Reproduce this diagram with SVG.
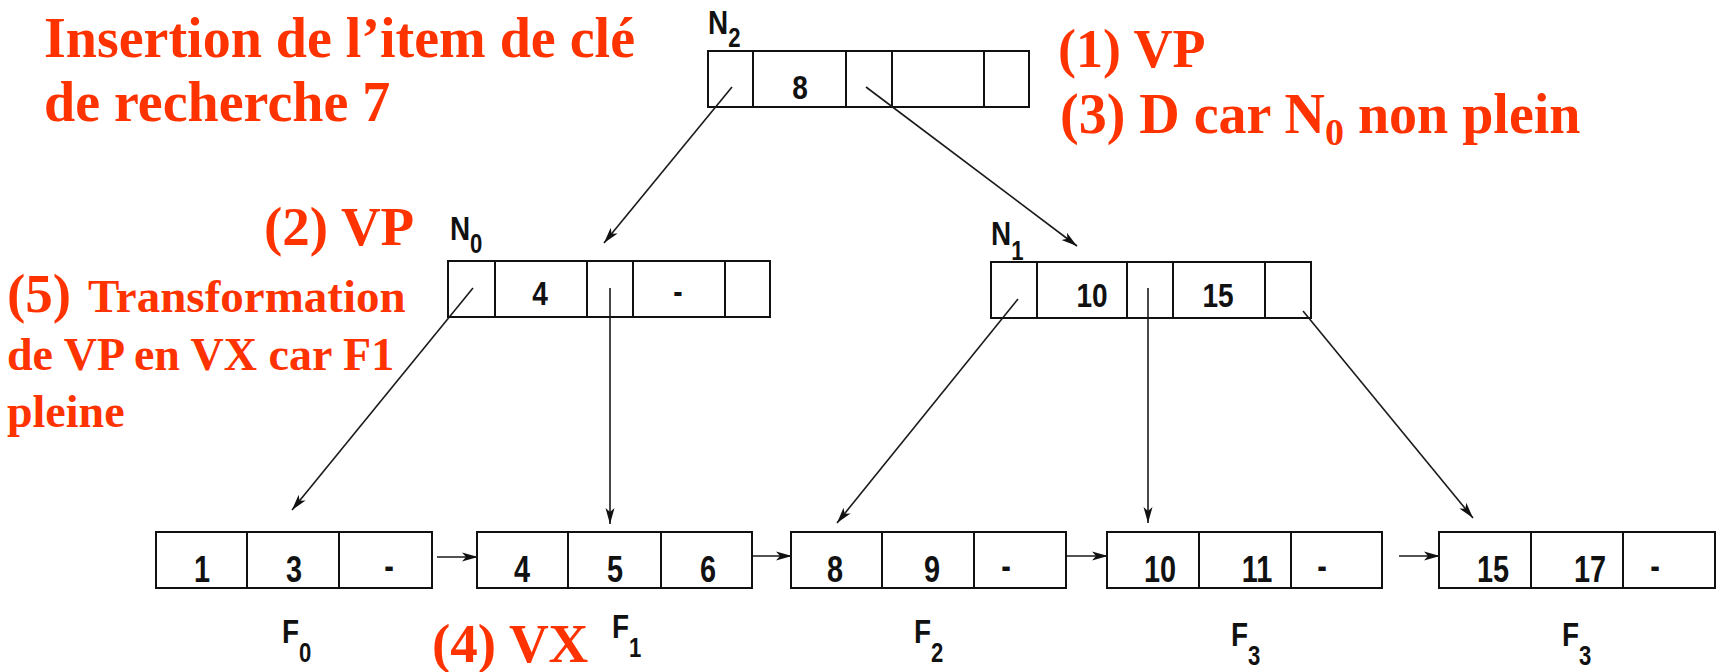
<svg xmlns="http://www.w3.org/2000/svg" width="1724" height="672" viewBox="0 0 1724 672">
<defs>
<style>
.cell{fill:#fff;stroke:#111;stroke-width:2}
.div{stroke:#111;stroke-width:2}
.d{font-family:"Liberation Sans",Arial,sans-serif;font-weight:bold;fill:#111;text-anchor:middle;transform-box:fill-box;transform-origin:center}
.di{font-size:33px;transform:scaleX(0.85)}
.dl{font-size:37px;transform:scaleX(0.78)}
.lab{font-family:"Liberation Sans",Arial,sans-serif;font-weight:bold;fill:#111;font-size:34px;transform-box:fill-box;transform-origin:left bottom;transform:scaleX(0.82)}
.sub{font-size:27px}
.red{font-family:"Liberation Serif","Times New Roman",serif;font-weight:bold;fill:#FF3300}
.con{stroke:#1a1a1a;stroke-width:1.6;fill:none;marker-end:url(#ah)}
</style>
<marker id="ah" viewBox="0 0 16 10" refX="16" refY="5" markerWidth="16" markerHeight="10" orient="auto" markerUnits="userSpaceOnUse">
<path d="M0,0.5 L16,5 L0,9.5 L4,5 z" fill="#111"/>
</marker>
</defs>
<rect width="1724" height="672" fill="#fff"/>

<g id="annotations">
<text class="red" x="44" y="57" font-size="56">Insertion de l’item de clé</text>
<text class="red" x="44" y="121" font-size="56">de recherche 7</text>
<text class="red" x="1058" y="67" font-size="54">(1) VP</text>
<text class="red" x="1060" y="133" font-size="56">(3) D car N<tspan font-size="38" dy="12">0</tspan><tspan dy="-12"> non plein</tspan></text>
<text class="red" x="264" y="245" font-size="55">(2) VP</text>
<text class="red" x="7" y="312" font-size="55">(5)<tspan x="88" font-size="47">Transformation</tspan></text>
<text class="red" x="7" y="370" font-size="46">de VP en VX car F1</text>
<text class="red" x="7" y="427" font-size="46">pleine</text>
<text class="red" x="432" y="662" font-size="55">(4) VX</text>
</g>

<g id="N2">
<rect class="cell" x="708" y="51" width="321" height="56"/>
<path class="div" d="M753,51V107M846,51V107M892,51V107M984,51V107"/>
<text class="d di" x="800" y="99">8</text>
<text class="lab" x="708" y="34">N<tspan class="sub" dy="13">2</tspan></text>
</g>

<g id="N0">
<rect class="cell" x="448" y="261" width="322" height="56"/>
<path class="div" d="M495,261V317M587,261V317M633,261V317M725,261V317"/>
<text class="d di" x="540" y="305">4</text>
<text class="d di" x="678" y="303">-</text>
<text class="lab" x="450" y="240">N<tspan class="sub" dy="13">0</tspan></text>
</g>

<g id="N1">
<rect class="cell" x="991" y="262" width="320" height="56"/>
<path class="div" d="M1037,262V318M1127,262V318M1173,262V318M1265,262V318"/>
<text class="d di" x="1092" y="307">10</text>
<text class="d di" x="1218" y="307">15</text>
<text class="lab" x="991" y="245">N<tspan class="sub" dy="15">1</tspan></text>
</g>

<g id="F0">
<rect class="cell" x="156" y="532" width="276" height="56"/>
<path class="div" d="M247,532V588M339,532V588"/>
<text class="d dl" x="202" y="582">1</text>
<text class="d dl" x="294" y="582">3</text>
<text class="d dl" x="389" y="578">-</text>
<text class="lab" x="282" y="643">F<tspan class="sub" dy="19">0</tspan></text>
</g>

<g id="F1">
<rect class="cell" x="477" y="532" width="275" height="56"/>
<path class="div" d="M568,532V588M661,532V588"/>
<text class="d dl" x="522" y="582">4</text>
<text class="d dl" x="615" y="582">5</text>
<text class="d dl" x="708" y="582">6</text>
<text class="lab" x="612" y="638">F<tspan class="sub" dy="19">1</tspan></text>
</g>

<g id="F2">
<rect class="cell" x="791" y="532" width="275" height="56"/>
<path class="div" d="M882,532V588M974,532V588"/>
<text class="d dl" x="835" y="582">8</text>
<text class="d dl" x="932" y="582">9</text>
<text class="d dl" x="1006" y="578">-</text>
<text class="lab" x="914" y="643">F<tspan class="sub" dy="19">2</tspan></text>
</g>

<g id="F3a">
<rect class="cell" x="1107" y="532" width="275" height="56"/>
<path class="div" d="M1199,532V588M1291,532V588"/>
<text class="d dl" x="1160" y="582">10</text>
<text class="d dl" x="1257" y="582">11</text>
<text class="d dl" x="1322" y="578">-</text>
<text class="lab" x="1231" y="646">F<tspan class="sub" dy="19">3</tspan></text>
</g>

<g id="F3b">
<rect class="cell" x="1439" y="532" width="276" height="56"/>
<path class="div" d="M1531,532V588M1623,532V588"/>
<text class="d dl" x="1493" y="582">15</text>
<text class="d dl" x="1590" y="582">17</text>
<text class="d dl" x="1655" y="578">-</text>
<text class="lab" x="1562" y="646">F<tspan class="sub" dy="19">3</tspan></text>
</g>

<g id="connectors">
<path class="con" d="M732,87L604,243"/>
<path class="con" d="M866,87L1077,246"/>
<path class="con" d="M473,288L292,510"/>
<path class="con" d="M610,288L610,524"/>
<path class="con" d="M1018,299L837,523"/>
<path class="con" d="M1148,288L1148,523"/>
<path class="con" d="M1303,311L1473,518"/>
<path class="con" d="M437,557L478,557"/>
<path class="con" d="M753,556L792,556"/>
<path class="con" d="M1067,556L1108,556"/>
<path class="con" d="M1399,556L1440,556"/>
</g>
</svg>
